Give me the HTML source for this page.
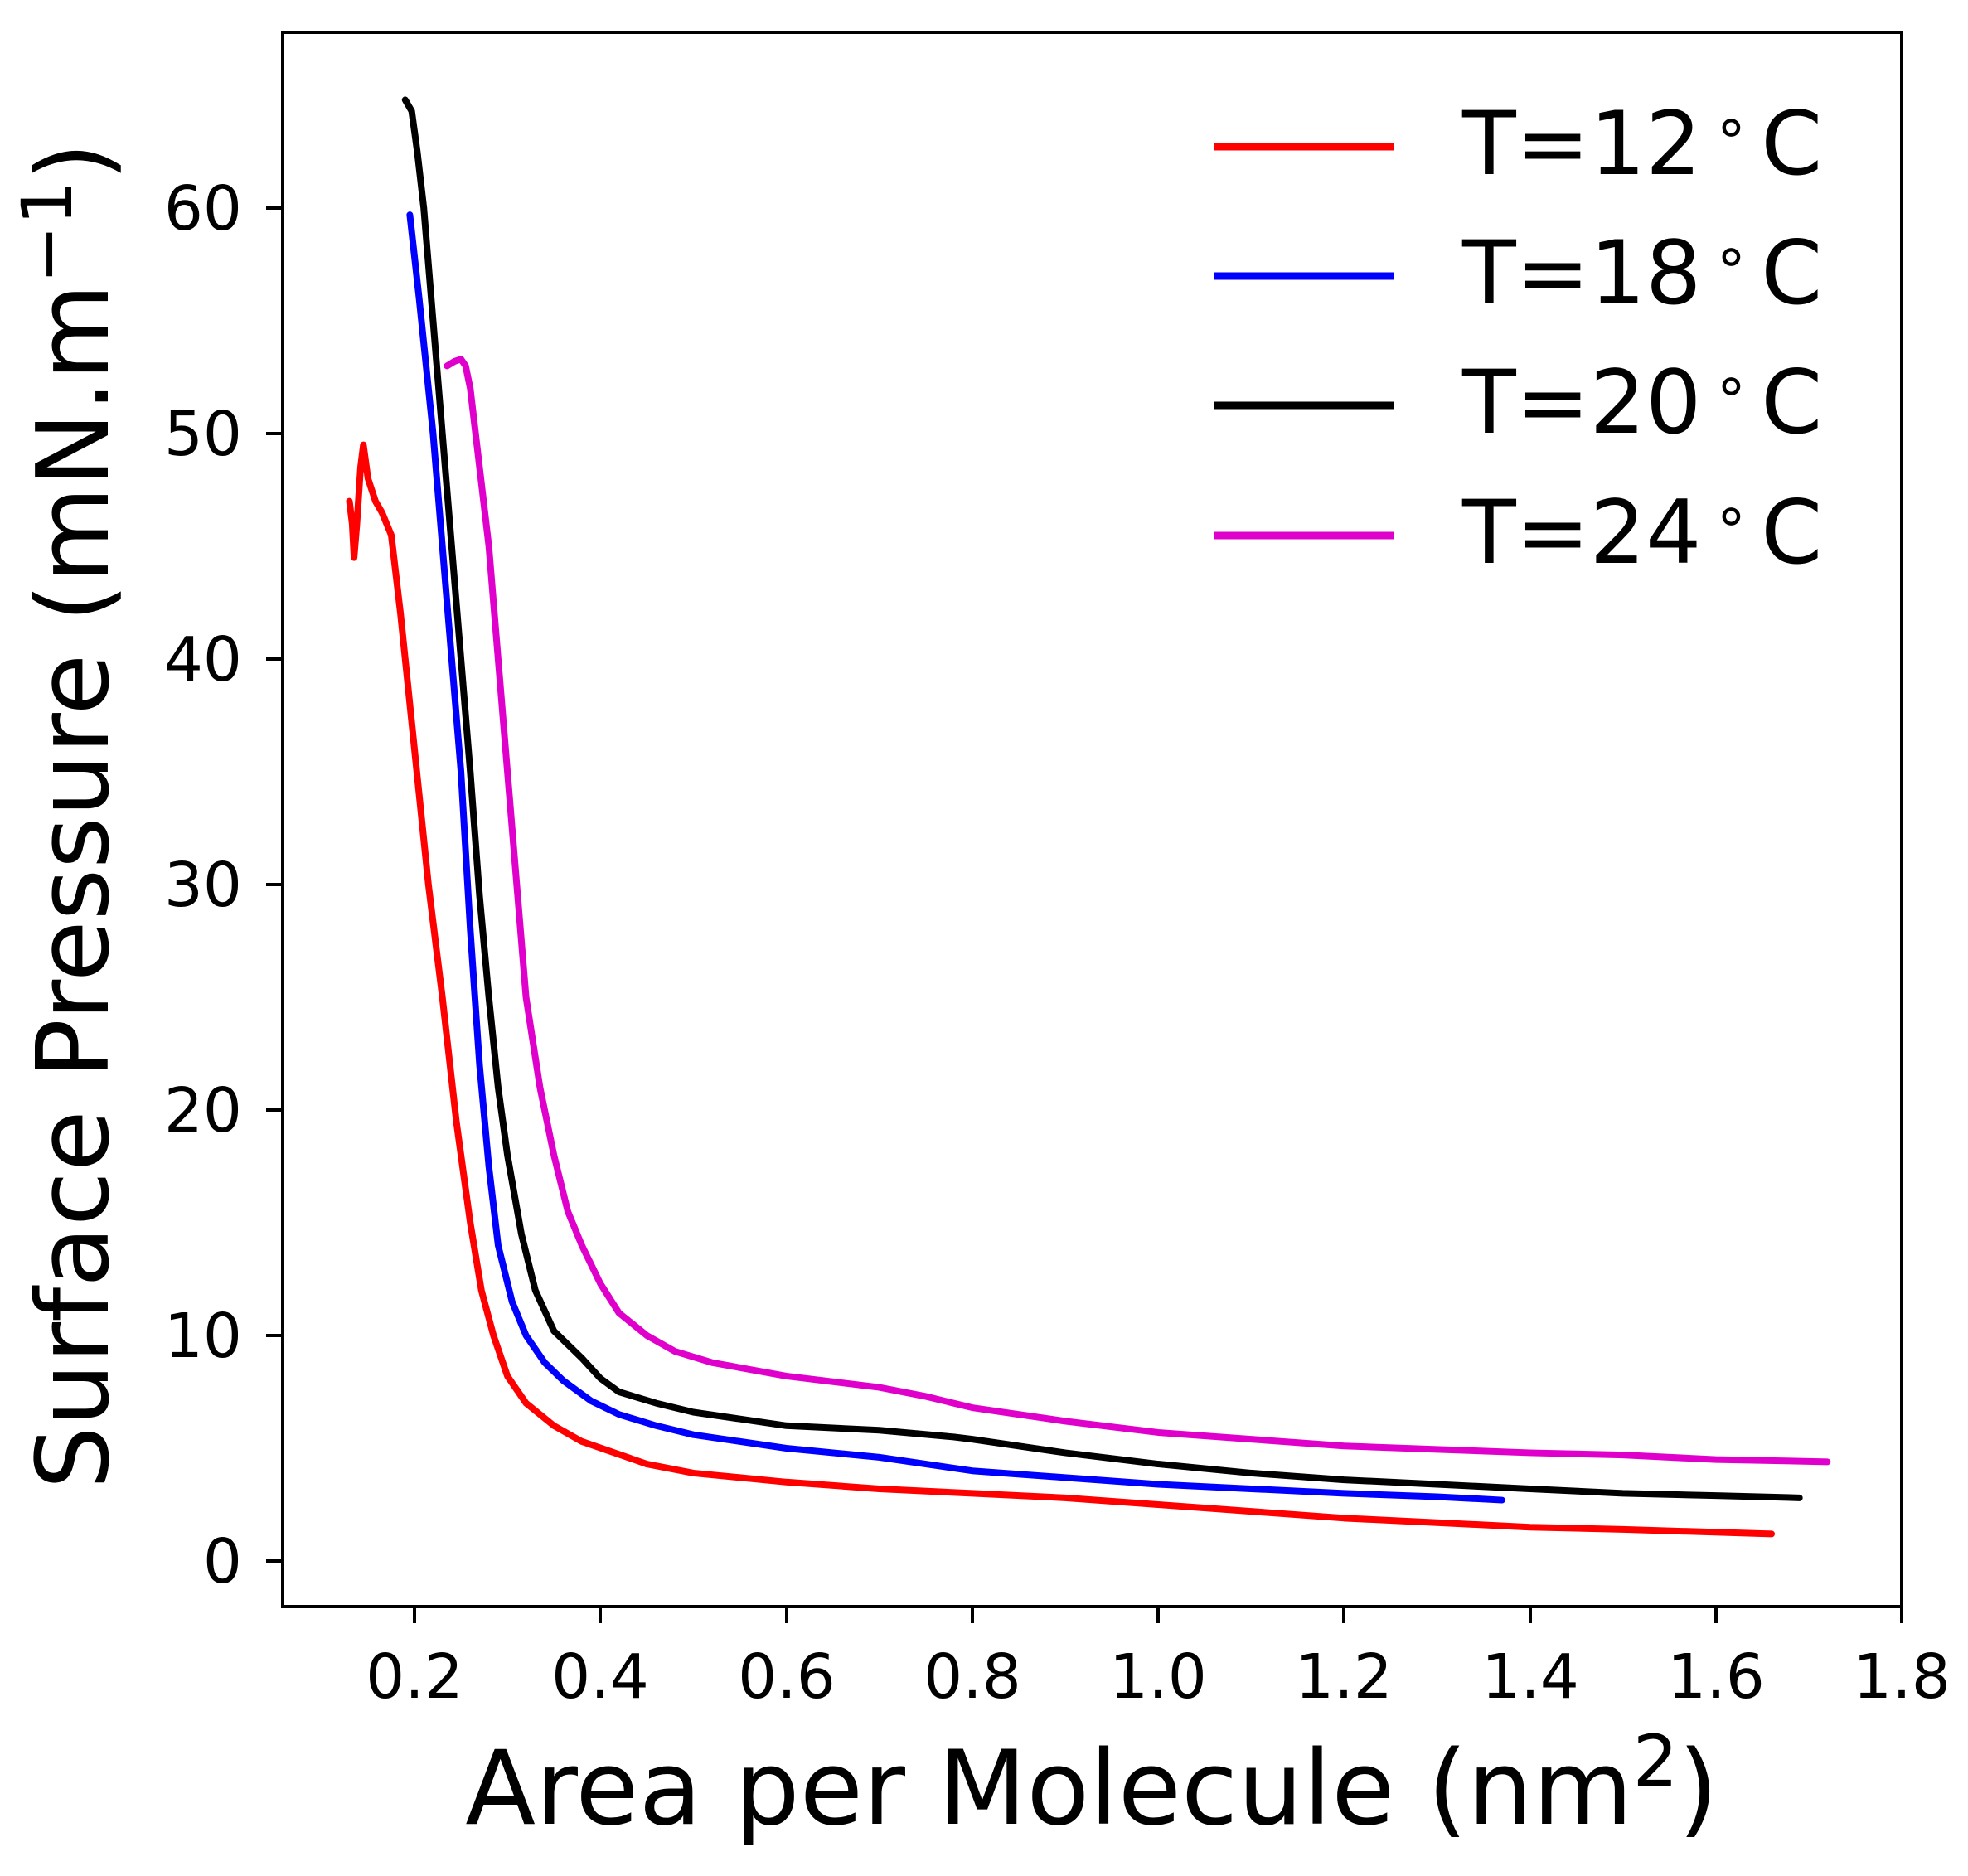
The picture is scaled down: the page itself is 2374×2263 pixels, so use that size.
<!DOCTYPE html>
<html><head><meta charset="utf-8"><style>
html,body{margin:0;padding:0;background:#fff;}
svg{display:block;}
text{font-family:"DejaVu Sans","Liberation Sans",sans-serif;fill:#000;}
</style></head><body>
<svg width="2374" height="2263" viewBox="0 0 2374 2263" xmlns="http://www.w3.org/2000/svg">
<rect x="0" y="0" width="2374" height="2263" fill="#fff"/>
<g fill="none" stroke-linejoin="round" stroke-linecap="round" transform="matrix(1121.25 0 0 -27.2 275.75 1883)">
<polyline vector-effect="non-scaling-stroke" stroke="#ff0000" stroke-width="8" points="0.13,47 0.133,46 0.135,44.5 0.138,46 0.142,48.5 0.145,49.5 0.15,48 0.158,47 0.165,46.5 0.175,45.5 0.185,42 0.2,36 0.215,30 0.23,25 0.245,19.5 0.26,15 0.272,12 0.285,10 0.3,8.2 0.32,7 0.35,6 0.38,5.3 0.45,4.3 0.5,3.9 0.6,3.5 0.7,3.2 0.8,3 0.9,2.8 1.0,2.5 1.1,2.2 1.2,1.9 1.3,1.7 1.4,1.5 1.5,1.4 1.66,1.2"/>
<polyline vector-effect="non-scaling-stroke" stroke="#0000ff" stroke-width="8" points="0.195,59.7 0.205,56 0.22,50 0.235,42.5 0.25,35 0.26,28 0.27,22 0.28,17.5 0.29,14 0.305,11.5 0.32,10 0.34,8.8 0.36,8 0.39,7.1 0.42,6.5 0.46,6 0.5,5.6 0.6,5 0.7,4.6 0.8,4.0 0.9,3.7 1.0,3.4 1.1,3.2 1.2,3.0 1.3,2.85 1.37,2.7"/>
<polyline vector-effect="non-scaling-stroke" stroke="#000000" stroke-width="8" points="0.19,64.8 0.197,64.3 0.203,62.5 0.21,60 0.22,55 0.23,50 0.245,42.5 0.26,35 0.27,29.5 0.28,25 0.29,21 0.3,18 0.315,14.5 0.33,12 0.35,10.2 0.38,9 0.4,8.1 0.42,7.5 0.46,7 0.5,6.6 0.6,6 0.7,5.8 0.78,5.5 0.8,5.4 0.9,4.8 1.0,4.3 1.1,3.9 1.2,3.6 1.3,3.4 1.4,3.2 1.5,3.0 1.6,2.9 1.69,2.8"/>
<polyline vector-effect="non-scaling-stroke" stroke="#e000cc" stroke-width="8" points="0.235,53 0.243,53.2 0.25,53.3 0.255,53 0.26,52 0.27,48.5 0.28,45 0.29,40 0.3,35 0.31,30 0.32,25 0.335,21 0.35,18 0.365,15.5 0.38,14 0.4,12.3 0.42,11 0.45,10 0.48,9.3 0.52,8.8 0.6,8.2 0.7,7.7 0.75,7.3 0.8,6.8 0.9,6.2 1.0,5.7 1.1,5.4 1.2,5.1 1.3,4.95 1.4,4.8 1.5,4.7 1.6,4.5 1.72,4.4"/>
</g>
<rect x="341" y="39" width="1953" height="1899" fill="none" stroke="#000" stroke-width="4"/>
<g stroke="#000" stroke-width="4">
<line x1="500" y1="1938" x2="500" y2="1958"/>
<line x1="724" y1="1938" x2="724" y2="1958"/>
<line x1="949" y1="1938" x2="949" y2="1958"/>
<line x1="1173" y1="1938" x2="1173" y2="1958"/>
<line x1="1397" y1="1938" x2="1397" y2="1958"/>
<line x1="1621" y1="1938" x2="1621" y2="1958"/>
<line x1="1846" y1="1938" x2="1846" y2="1958"/>
<line x1="2070" y1="1938" x2="2070" y2="1958"/>
<line x1="2294" y1="1938" x2="2294" y2="1958"/>
<line x1="321" y1="1883" x2="341" y2="1883"/>
<line x1="321" y1="1611" x2="341" y2="1611"/>
<line x1="321" y1="1339" x2="341" y2="1339"/>
<line x1="321" y1="1067" x2="341" y2="1067"/>
<line x1="321" y1="795" x2="341" y2="795"/>
<line x1="321" y1="523" x2="341" y2="523"/>
<line x1="321" y1="251" x2="341" y2="251"/>
</g>
<g font-size="74" text-anchor="middle">
<text x="500" y="2048">0.2</text>
<text x="724" y="2048">0.4</text>
<text x="949" y="2048">0.6</text>
<text x="1173" y="2048">0.8</text>
<text x="1397" y="2048">1.0</text>
<text x="1621" y="2048">1.2</text>
<text x="1846" y="2048">1.4</text>
<text x="2070" y="2048">1.6</text>
<text x="2294" y="2048">1.8</text>
</g>
<g font-size="74" text-anchor="end">
<text x="292" y="1909">0</text>
<text x="292" y="1637">10</text>
<text x="292" y="1365">20</text>
<text x="292" y="1093">30</text>
<text x="292" y="821">40</text>
<text x="292" y="549">50</text>
<text x="292" y="277">60</text>
</g>
<text x="1317" y="2200" font-size="124" text-anchor="middle">Area per Molecule (nm<tspan font-size="86" dy="-46">2</tspan><tspan dy="46">)</tspan></text>
<text transform="translate(130,984) rotate(-90)" font-size="120" text-anchor="middle">Surface Pressure (mN.m<tspan font-size="84" dy="-44">−1</tspan><tspan dy="44">)</tspan></text>
<g stroke-width="9">
<line x1="1464" y1="177" x2="1682" y2="177" stroke="#ff0000"/>
<line x1="1464" y1="333" x2="1682" y2="333" stroke="#0000ff"/>
<line x1="1464" y1="489" x2="1682" y2="489" stroke="#000000"/>
<line x1="1464" y1="646" x2="1682" y2="646" stroke="#e000cc"/>
</g>
<g font-size="106">
<text x="1764" y="210">T=12<tspan font-size="70" dx="14" dy="-34">∘</tspan><tspan dx="14" dy="34">C</tspan></text>
<text x="1764" y="366">T=18<tspan font-size="70" dx="14" dy="-34">∘</tspan><tspan dx="14" dy="34">C</tspan></text>
<text x="1764" y="522">T=20<tspan font-size="70" dx="14" dy="-34">∘</tspan><tspan dx="14" dy="34">C</tspan></text>
<text x="1764" y="679">T=24<tspan font-size="70" dx="14" dy="-34">∘</tspan><tspan dx="14" dy="34">C</tspan></text>
</g>
</svg>
</body></html>
